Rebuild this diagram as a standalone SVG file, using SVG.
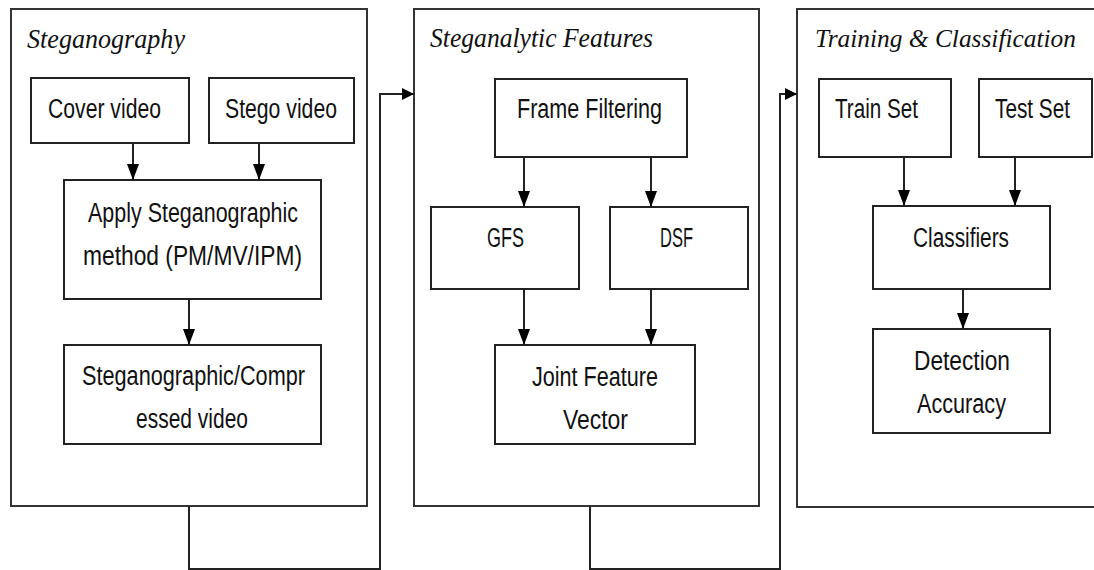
<svg xmlns="http://www.w3.org/2000/svg" width="1094" height="570" viewBox="0 0 1094 570">
<style>
.panel{fill:#fff;stroke:#333;stroke-width:2}
.box{fill:#fff;stroke:#222;stroke-width:2}
.title{font-family:"Liberation Serif",serif;font-style:italic;font-size:28px;fill:#111}
.lbl{font-family:"Liberation Sans",Arial,sans-serif;font-size:27px;fill:#111;text-anchor:middle}
.conn{fill:none;stroke:#222;stroke-width:2}
</style>
<defs>
<marker id="ah" markerUnits="userSpaceOnUse" markerWidth="16" markerHeight="12" refX="16" refY="6" orient="auto">
<path d="M0,0 L16,6 L0,12 z" fill="#000"/>
</marker>
<marker id="ahs" markerUnits="userSpaceOnUse" markerWidth="12" markerHeight="12" refX="12" refY="6" orient="auto">
<path d="M0,0 L12,6 L0,12 z" fill="#000"/>
</marker>
</defs>
<rect width="1094" height="570" fill="#fff"/>
<g id="panel-steganography">
<rect class="panel" x="11" y="9" width="356" height="497"/>
<text class="title" x="27" y="48" textLength="158" lengthAdjust="spacingAndGlyphs">Steganography</text>
</g>
<g id="panel-features">
<rect class="panel" x="414" y="9" width="345" height="497"/>
<text class="title" x="430" y="47" textLength="223" lengthAdjust="spacingAndGlyphs">Steganalytic Features</text>
</g>
<g id="panel-training">
<path class="panel" d="M1094,9 H797 V507 H1094"/>
<text class="title" x="815" y="47" style="font-size:26px" textLength="261" lengthAdjust="spacingAndGlyphs">Training &amp; Classification</text>
</g>
<g id="cover-video">
<rect class="box" x="31" y="78" width="158" height="65"/>
<text class="lbl" x="104.5" y="118" textLength="113" lengthAdjust="spacingAndGlyphs">Cover video</text>
</g>
<g id="stego-video">
<rect class="box" x="209" y="78" width="145" height="65"/>
<text class="lbl" x="281" y="118" textLength="112" lengthAdjust="spacingAndGlyphs">Stego video</text>
</g>
<g id="apply-method">
<rect class="box" x="64" y="180" width="257" height="119"/>
<text class="lbl" x="193" y="222" textLength="210" lengthAdjust="spacingAndGlyphs">Apply Steganographic</text>
<text class="lbl" x="192.5" y="265" textLength="219" lengthAdjust="spacingAndGlyphs">method (PM/MV/IPM)</text>
</g>
<g id="compressed-video">
<rect class="box" x="64" y="345" width="257" height="99"/>
<text class="lbl" x="193.5" y="385" textLength="223" lengthAdjust="spacingAndGlyphs">Steganographic/Compr</text>
<text class="lbl" x="192" y="428" textLength="112" lengthAdjust="spacingAndGlyphs">essed video</text>
</g>
<g id="frame-filtering">
<rect class="box" x="495" y="79" width="192" height="78"/>
<text class="lbl" x="589.5" y="118" textLength="145" lengthAdjust="spacingAndGlyphs">Frame Filtering</text>
</g>
<g id="gfs">
<rect class="box" x="431" y="207" width="148" height="82"/>
<text class="lbl" x="505.5" y="247" textLength="37" lengthAdjust="spacingAndGlyphs">GFS</text>
</g>
<g id="dsf">
<rect class="box" x="610" y="207" width="138" height="82"/>
<text class="lbl" x="676.5" y="247" textLength="33" lengthAdjust="spacingAndGlyphs">DSF</text>
</g>
<g id="joint-feature-vector">
<rect class="box" x="495" y="345" width="200" height="99"/>
<text class="lbl" x="595" y="386" textLength="126" lengthAdjust="spacingAndGlyphs">Joint Feature</text>
<text class="lbl" x="595.5" y="429" textLength="65" lengthAdjust="spacingAndGlyphs">Vector</text>
</g>
<g id="train-set">
<rect class="box" x="819" y="79" width="132" height="78"/>
<text class="lbl" x="876.5" y="118" textLength="83" lengthAdjust="spacingAndGlyphs">Train Set</text>
</g>
<g id="test-set">
<rect class="box" x="979" y="79" width="113" height="78"/>
<text class="lbl" x="1032.5" y="118" textLength="75" lengthAdjust="spacingAndGlyphs">Test Set</text>
</g>
<g id="classifiers">
<rect class="box" x="873" y="206" width="177" height="83"/>
<text class="lbl" x="961" y="247" textLength="96" lengthAdjust="spacingAndGlyphs">Classifiers</text>
</g>
<g id="detection-accuracy">
<rect class="box" x="873" y="329" width="177" height="104"/>
<text class="lbl" x="962" y="370" textLength="96" lengthAdjust="spacingAndGlyphs">Detection</text>
<text class="lbl" x="961.5" y="413" textLength="89" lengthAdjust="spacingAndGlyphs">Accuracy</text>
</g>
<g id="connectors">
<path class="conn" d="M133,143 V180" marker-end="url(#ah)"/>
<path class="conn" d="M259,143 V180" marker-end="url(#ah)"/>
<path class="conn" d="M189,299 V345" marker-end="url(#ah)"/>
<path class="conn" d="M524,157 V207" marker-end="url(#ah)"/>
<path class="conn" d="M651,157 V207" marker-end="url(#ah)"/>
<path class="conn" d="M524,289 V345" marker-end="url(#ah)"/>
<path class="conn" d="M651,289 V345" marker-end="url(#ah)"/>
<path class="conn" d="M904,157 V206" marker-end="url(#ah)"/>
<path class="conn" d="M1015,157 V206" marker-end="url(#ah)"/>
<path class="conn" d="M963,289 V329" marker-end="url(#ah)"/>
<path class="conn" d="M189,506 V569 H380 V94 H414" marker-end="url(#ahs)"/>
<path class="conn" d="M590,506 V569 H780 V94 H797" marker-end="url(#ahs)"/>
</g>
</svg>
